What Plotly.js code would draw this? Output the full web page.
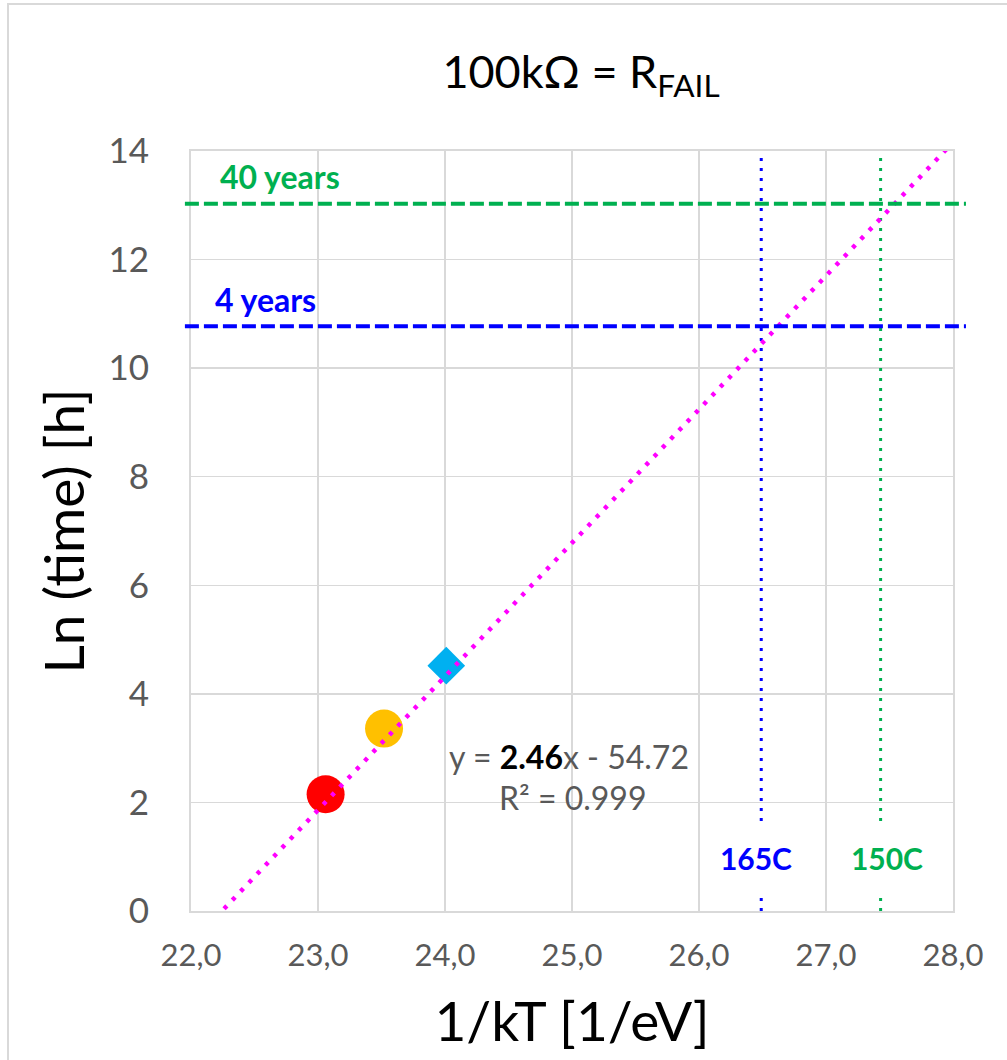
<!DOCTYPE html>
<html>
<head>
<meta charset="utf-8">
<script src="https://cdn.plot.ly/plotly-3.0.1.min.js"></script>
<style>
  html, body { margin: 0; padding: 0; background: #ffffff; }
  #wrap { position: relative; width: 1007px; height: 1060px; }
  #chart { width: 1007px; height: 1060px; }
  #frame {
    position: absolute; left: 7px; top: 3px; right: -10px; bottom: -10px;
    border-top: 2px solid #d9d9d9; border-left: 2px solid #d9d9d9;
    pointer-events: none;
  }
</style>
</head>
<body>
<div id="wrap">
  <div id="chart"></div>
  <div id="frame"></div>
</div>
<script>
// Measured stress points: 1/kT [1/eV] vs Ln(time to failure) [h]
const pointX      = [23.06, 23.52, 24.01];
const pointY      = [2.15, 3.36, 4.52];
const pointColors = ['#FF0000', '#FFC000', '#00B0F0'];
const pointSymbols = ['circle', 'circle', 'diamond'];
const pointSizes  = [38, 38, 29];

// Linear fit reported for the points
const fitSlope = 2.46;
const fitIntercept = -54.72;
const fitR2 = 0.999;
const fitRangeX = [22.0, 28.0];

// Lifetime targets, Ln(hours)
const lifeLabels = ['40 years', '4 years'];
const lifeLnHours = [13.03, 10.77];
const lifeColors = ['#00B050', '#0000FF'];

// Use temperatures expressed as 1/kT
const tempLabels = ['165C', '150C'];
const tempInvKT = [26.49, 27.43];
const tempColors = ['#0000FF', '#00B050'];

const xTicks = [22, 23, 24, 25, 26, 27, 28];
const yTicks = [0, 2, 4, 6, 8, 10, 12, 14];

const FONT = "Lato, 'Open Sans', 'DejaVu Sans', sans-serif";
const GRID = '#d9d9d9';
const TICKCOL = '#595959';

const traces = [];

// vertical use-temperature markers (dotted)
tempInvKT.forEach((xv, i) => {
  traces.push({
    x: [xv, xv], y: [yTicks[0], yTicks[yTicks.length - 1]],
    mode: 'lines', type: 'scatter', hoverinfo: 'skip', showlegend: false,
    line: { color: tempColors[i], width: 3, dash: '3px,7px' }
  });
});

// measured points
pointX.forEach((xv, i) => {
  traces.push({
    x: [xv], y: [pointY[i]], mode: 'markers', type: 'scatter', showlegend: false,
    marker: { color: pointColors[i], symbol: pointSymbols[i], size: pointSizes[i], line: { width: 0 } }
  });
});

// fitted trend line
traces.push({
  x: fitRangeX,
  y: fitRangeX.map(v => fitSlope * v + fitIntercept),
  mode: 'lines', type: 'scatter', hoverinfo: 'skip', showlegend: false,
  line: { color: '#FF00FF', width: 4.5, dash: '4px,8px' }
});

// horizontal lifetime lines, running slightly past the plot frame
const shapes = lifeLnHours.map((yv, i) => ({
  type: 'line', xref: 'paper', yref: 'y',
  x0: -0.008, x1: 1.017, y0: yv, y1: yv, layer: 'above',
  line: { color: lifeColors[i], width: 4, dash: '14px,5px' }
}));

const annotations = [];
const lifeLabelX = [22.70, 22.59];
lifeLabels.forEach((t, i) => {
  annotations.push({
    x: lifeLabelX[i], y: lifeLnHours[i], xref: 'x', yref: 'y', yshift: 27,
    text: '<b>' + t + '</b>', showarrow: false,
    font: { family: FONT, size: 32, color: lifeColors[i] }
  });
});
const tempLabelShift = [-5, 6];
tempLabels.forEach((t, i) => {
  annotations.push({
    x: tempInvKT[i], y: 0.98, xref: 'x', yref: 'y', xshift: tempLabelShift[i],
    text: '<b>' + t + '</b>', showarrow: false, bgcolor: '#ffffff',
    height: 66, width: 80, valign: 'middle',
    font: { family: FONT, size: 30, color: tempColors[i] }
  });
});
const sign = fitIntercept < 0 ? ' - ' : ' + ';
annotations.push({
  x: 24.98, y: 2.84, xref: 'x', yref: 'y', showarrow: false,
  text: 'y = <b><span style="color:#000000">' + fitSlope.toFixed(2) + '</span></b>x' + sign + Math.abs(fitIntercept).toFixed(2),
  font: { family: FONT, size: 32, color: TICKCOL }
});
annotations.push({
  x: 25.0, y: 2.1, xref: 'x', yref: 'y', showarrow: false,
  text: 'R² = ' + fitR2.toFixed(3),
  font: { family: FONT, size: 32, color: TICKCOL }
});

const layout = {
  width: 1007, height: 1060,
  margin: { l: 191, r: 54, t: 151, b: 149 },
  paper_bgcolor: '#ffffff', plot_bgcolor: '#ffffff',
  separators: ', ',
  showlegend: false,
  font: { family: FONT },
  title: {
    text: '100kΩ = R<sub>FAIL</sub>',
    x: 581 / 1007, xanchor: 'center', xref: 'container',
    y: 1 - 72 / 1060, yanchor: 'middle', yref: 'container',
    font: { family: FONT, size: 45, color: '#000000' }
  },
  xaxis: {
    range: [22, 28], tickvals: xTicks, tickformat: '.1f',
    showgrid: true, gridcolor: GRID, gridwidth: 1.5,
    showline: true, linecolor: GRID, linewidth: 2, mirror: true,
    zeroline: false, ticks: '', ticklabelstandoff: 16,
    tickfont: { family: FONT, size: 31, color: TICKCOL },
    title: { text: '1/kT [1/eV]', standoff: 30, font: { family: FONT, size: 55, color: '#000000' } }
  },
  yaxis: {
    range: [0, 14], tickvals: yTicks,
    showgrid: true, gridcolor: GRID, gridwidth: 1.5,
    showline: true, linecolor: GRID, linewidth: 2, mirror: true,
    zeroline: false, ticks: '', ticklabelstandoff: 33,
    tickfont: { family: FONT, size: 35, color: TICKCOL },
    title: { text: 'Ln (time) [h]', standoff: 6, font: { family: FONT, size: 55, color: '#000000' } }
  },
  shapes: shapes,
  annotations: annotations
};

Plotly.newPlot('chart', traces, layout, { staticPlot: true, displayModeBar: false });
</script>
</body>
</html>
